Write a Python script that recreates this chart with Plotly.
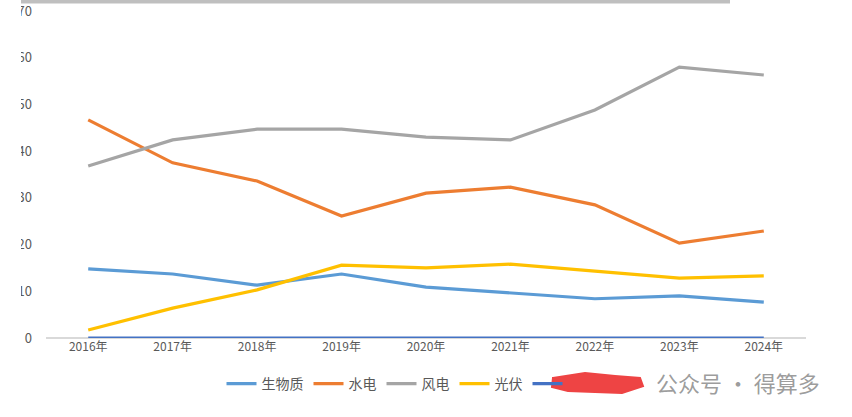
import plotly.graph_objects as go

years = ["2016年", "2017年", "2018年", "2019年", "2020年", "2021年", "2022年", "2023年", "2024年"]
biomass = [14.8, 13.7, 11.3, 13.7, 10.9, 9.6, 8.4, 9.0, 7.7]
hydro = [46.7, 37.5, 33.6, 26.1, 31.0, 32.3, 28.5, 20.3, 22.9]
wind = [36.8, 42.4, 44.7, 44.7, 43.0, 42.4, 48.8, 58.0, 56.3]
solar = [1.7, 6.4, 10.3, 15.6, 15.0, 15.8, 14.3, 12.8, 13.3]
other = [0, 0, 0, 0, 0, 0, 0, 0, 0]

SCRIB = "#EE4444"
series = [
    ("生物质", biomass, "#5B9BD5"),
    ("水电", hydro, "#ED7D31"),
    ("风电", wind, "#A5A5A5"),
    ("光伏", solar, "#FFC000"),
    (f"<span style='color:{SCRIB}'>其他</span>", other, "#4472C4"),
]

fig = go.Figure()
for name, vals, color in series:
    fig.add_trace(go.Scatter(x=years, y=vals, name=name, mode="lines",
                             line=dict(color=color, width=3.2)))

W, H = 852, 417
L, R, T, B = 46, 46, 11, 79

def px(x):
    return (x - L) / (W - L - R)

def py(y):
    return (H - B - y) / (H - T - B)

fig.update_layout(
    width=W, height=H,
    margin=dict(l=L, r=R, t=T, b=B, autoexpand=False),
    paper_bgcolor="white", plot_bgcolor="white",
    font=dict(family="Noto Sans CJK SC, DejaVu Sans", size=12, color="#595959"),
    showlegend=True,
    legend=dict(orientation="h", x=px(411), xanchor="center", y=py(384), yanchor="middle",
                bgcolor="rgba(0,0,0,0)",
                font=dict(size=14, color="#595959"), itemwidth=30),
    xaxis=dict(range=[-0.5, 8.5], showgrid=False, zeroline=False, showline=False,
               automargin=False, ticks="", tickfont=dict(size=12, color="#595959")),
    yaxis=dict(range=[0, 70], dtick=10, showgrid=False, zeroline=True,
               zerolinecolor="#D9D9D9", zerolinewidth=1.5, showline=False,
               automargin=False, ticks="", ticklabelstandoff=13,
               tickfont=dict(size=13, color="#595959")),
)

# top gray bar from the screenshot
fig.add_shape(type="rect", xref="paper", yref="paper",
              x0=px(0), x1=px(730), y0=py(0), y1=py(3.5),
              fillcolor="#BFBFBF", line=dict(width=0), layer="above")

# white cover over left edge of tick labels (cropped screenshot)
fig.add_shape(type="rect", xref="paper", yref="paper",
              x0=px(0), x1=px(21), y0=py(345), y1=py(0),
              fillcolor="white", line=dict(width=0), layer="above")

# red scribble covering fifth legend label
pts = [(553, 378), (585, 373), (615, 376), (640, 378), (643, 386), (622, 393),
       (595, 392), (568, 391), (552, 387)]
path = "M " + " L ".join(f"{px(x):.4f},{py(y):.4f}" for x, y in pts) + " Z"
fig.add_shape(type="path", xref="paper", yref="paper", path=path,
              fillcolor=SCRIB, line=dict(color=SCRIB, width=2), layer="above")

# watermark
fig.add_annotation(xref="paper", yref="paper", x=px(738), y=py(382),
                   text="公众号 · 得算多", showarrow=False,
                   font=dict(size=22, color="rgba(130,130,130,0.8)"),
                   xanchor="center", yanchor="middle")

fig.write_html("out.html")
